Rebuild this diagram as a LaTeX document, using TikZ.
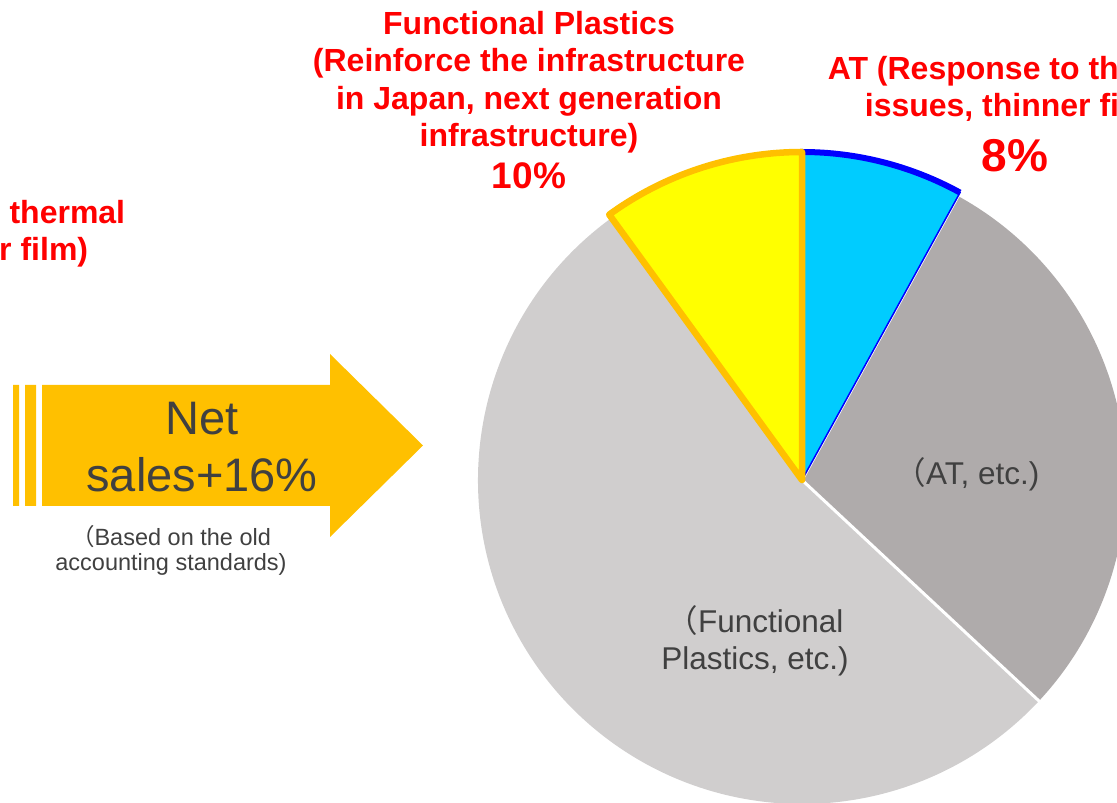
\documentclass[tikz,border=0pt]{standalone}
\usepackage{fontspec}
\setmainfont{Liberation Sans}
\newfontfamily\cjk{Noto Sans CJK JP}
\definecolor{arrowgold}{HTML}{FFC000}
\definecolor{textgrey}{HTML}{404040}
\definecolor{lightgrey}{HTML}{D0CECE}
\definecolor{darkgrey}{HTML}{AFABAB}
\definecolor{skyblue}{HTML}{00CCFF}
\definecolor{pureblue}{HTML}{0000FF}
\definecolor{pureyellow}{HTML}{FFFF00}
\definecolor{labelred}{HTML}{FF0000}
\begin{document}
\begin{tikzpicture}[x=1pt,y=1pt,
    redlabel/.style={text=labelred,align=center,inner sep=0pt,anchor=base,
      font=\fontsize{32}{37.5}\selectfont\bfseries},
    greylabel/.style={text=textgrey,align=center,inner sep=0pt,anchor=base}]
  \useasboundingbox (0,0) rectangle (1117,803);
  \clip (0,0) rectangle (1117,803);
  % arrow
  \fill[arrowgold] (13,297) rectangle (19,418) (25,297) rectangle (36,418);
  \fill[arrowgold] (42,297) -- (42,418) -- (330,418) -- (330,449)
    -- (423,357.5) -- (330,266) -- (330,297) -- cycle;
  \node[greylabel,font=\fontsize{47}{57}\selectfont] (net) at (202,311) {Net\\sales+16\%};
  \node[greylabel,font=\fontsize{23.5}{25}\selectfont] (basis) at (171,232)
    {{\cjk （}Based on the old\\accounting standards)};
  % labels
  \node[redlabel] (at prev) at (-63,542) {AT (Response to thermal\\issues, thinner film)};
  \node[redlabel] (fp label) at (529,656)
    {Functional Plastics\\(Reinforce the infrastructure\\in Japan, next generation\\infrastructure)};
  \node[redlabel,font=\fontsize{37}{44}\selectfont\bfseries] (fp share) at (529,614) {10\%};
  \node[redlabel] (at label) at (1016,686) {AT (Response to thermal\\issues, thinner film)};
  \node[redlabel,font=\fontsize{46}{54}\selectfont\bfseries] (at share) at (1015,631) {8\%};
  % pie
  \begin{scope}[shift={(802,323)}]
    \fill[lightgrey] (0,0) -- (126:324) arc[start angle=126,end angle=317,radius=324] -- cycle;
    \fill[darkgrey] (0,0) -- (61.2:324) arc[start angle=61.2,end angle=-43,radius=324] -- cycle;
    \draw[white,line width=3] (0,0) -- (-43:326) (0,0) -- (61.2:326);
    \filldraw[fill=skyblue,draw=pureblue,line width=1.5]
      (0,0) -- (90:328) arc[start angle=90,end angle=61.2,radius=328] -- cycle;
    \draw[pureblue,line width=6] (90:328) arc[start angle=90,end angle=61.2,radius=328];
    \filldraw[fill=pureyellow,draw=arrowgold,line width=6.5,line join=round]
      (0,0) -- (90:328) arc[start angle=90,end angle=126,radius=328] -- cycle;
  \end{scope}
  \node[greylabel,font=\fontsize{31.5}{37}\selectfont] (at slice) at (967,318) {{\cjk （}AT, etc.)};
  \node[greylabel,font=\fontsize{31.5}{37}\selectfont] (fp slice) at (755,133)
    {{\cjk （}Functional\\Plastics, etc.)};
\end{tikzpicture}
\end{document}
